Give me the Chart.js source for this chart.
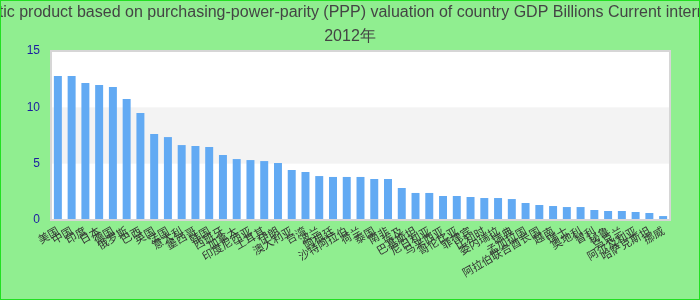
<!DOCTYPE html>
<html>
<head>
<meta charset="utf-8">
<script src="https://cdn.jsdelivr.net/npm/chart.js@4/dist/chart.umd.min.js"></script>
<style>
html,body{margin:0;padding:0;background:#90EE90;}
#wrap{position:relative;width:700px;height:300px;}
</style>
</head>
<body>
<div id="wrap"><canvas id="c" width="700" height="300"></canvas></div>
<script>
const titleLines = [
  "Gross domestic product based on purchasing-power-parity (PPP) valuation of country GDP Billions Current international dollar",
  "2012年"
];
const categories = [
  "美国","中国","印度","日本","德国","俄罗斯","巴西","英国","法国","意大利",
  "墨西哥","韩国","西班牙","加拿大","印度尼西亚","土耳其","伊朗","澳大利亚","台湾","波兰",
  "阿根廷","沙特阿拉伯","荷兰","泰国","南非","埃及","巴基斯坦","尼日利亚","马来西亚","哥伦比亚",
  "菲律宾","比利时","委内瑞拉","瑞典","孟加拉国","阿拉伯联合酋长国","越南","瑞士","奥地利","智利",
  "秘鲁","乌克兰","阿尔及利亚","哈萨克斯坦","挪威"
];
const values = [
  12.78,12.78,12.16,11.98,11.80,10.74,9.49,7.63,7.36,6.65,
  6.57,6.48,5.77,5.41,5.32,5.23,5.06,4.44,4.26,3.90,
  3.82,3.82,3.82,3.64,3.64,2.84,2.40,2.40,2.13,2.13,
  2.04,1.95,1.95,1.86,1.51,1.33,1.24,1.15,1.15,0.89,
  0.80,0.80,0.71,0.62,0.35
];
const yTicks = [0,5,10,15];
const bands = [[5,10]];

const decor = {
  id:'decor',
  beforeDraw(chart){
    const {ctx, chartArea:a, scales:{y}} = chart;
    ctx.save();
    ctx.fillStyle = '#90EE90';
    ctx.fillRect(0,0,chart.width,chart.height);
    ctx.fillStyle = '#ffffff';
    ctx.fillRect(a.left,a.top,a.right-a.left,a.bottom-a.top);
    ctx.fillStyle = '#f3f3f3';
    bands.forEach(([lo,hi])=>{
      const yt = y.getPixelForValue(hi), yb = y.getPixelForValue(lo);
      ctx.fillRect(a.left,yt,a.right-a.left,yb-yt);
    });
    ctx.restore();
  },
  afterDatasetsDraw(chart){
    const {ctx, chartArea:a} = chart;
    ctx.save();
    ctx.strokeStyle = '#d6d6d6';
    ctx.lineWidth = 2;
    ctx.strokeRect(a.left,a.top,a.right-a.left,a.bottom-a.top);
    ctx.restore();
  },
  afterDraw(chart){
    const ctx = chart.ctx;
    ctx.save();
    ctx.fillStyle = '#444444';
    ctx.font = '16px "Liberation Sans", Arial, sans-serif';
    ctx.textAlign = 'center';
    ctx.textBaseline = 'middle';
    ctx.fillText(titleLines[0], chart.width/2, 13);
    ctx.fillText(titleLines[1], chart.width/2, 37);
    ctx.strokeStyle = '#22e022';
    ctx.lineWidth = 2;
    ctx.strokeRect(0,0,chart.width,chart.height);
    ctx.restore();
  }
};

new Chart(document.getElementById('c'), {
  type:'bar',
  data:{
    labels: categories,
    datasets:[{
      data: values,
      backgroundColor:'#62aaf3',
      borderWidth:0,
      categoryPercentage:1.0,
      barPercentage:0.58
    }]
  },
  options:{
    responsive:false,
    animation:false,
    devicePixelRatio:1,
    layout:{padding:{top:51,left:0,right:30,bottom:0}},
    plugins:{legend:{display:false},title:{display:false},tooltip:{enabled:false}},
    scales:{
      x:{
        grid:{display:false,drawTicks:false},
        border:{display:false},
        ticks:{autoSkip:false,minRotation:30,maxRotation:30,padding:4,color:'#333',
          font:{size:11,family:'"Noto Sans CJK SC", sans-serif'}},
        afterFit(s){ s.height = 80; }
      },
      y:{
        min:0,max:15,
        grid:{display:false,drawTicks:false},
        border:{display:false},
        afterBuildTicks(s){ s.ticks = yTicks.map(v=>({value:v})); },
        ticks:{padding:11,color:'#1c1ca0',font:{size:12,family:'"Liberation Sans", Arial, sans-serif'}},
        afterFit(s){ s.width = 51; }
      }
    }
  },
  plugins:[decor]
});
</script>
</body>
</html>
